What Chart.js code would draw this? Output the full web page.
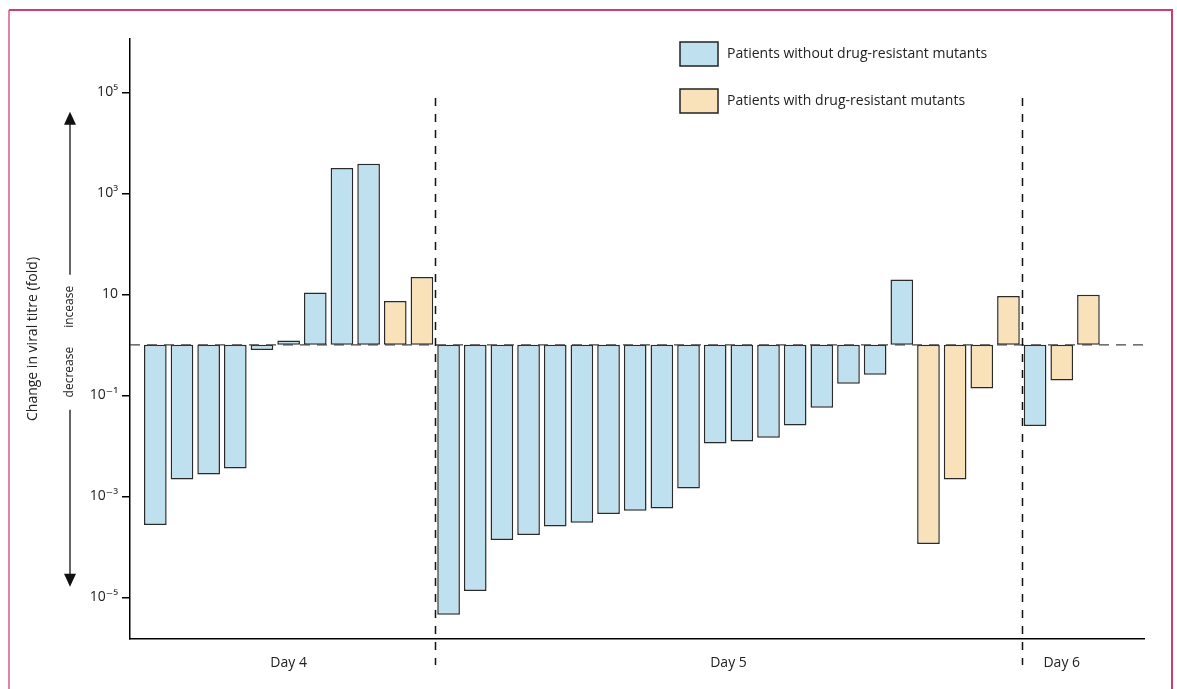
<!DOCTYPE html>
<html>
<head>
<meta charset="utf-8">
<script src="https://cdn.jsdelivr.net/npm/chart.js@4.4.1/dist/chart.umd.min.js"></script>
<style>
  html, body { margin: 0; padding: 0; background: #fff; }
  #wrap { width: 1177px; height: 689px; }
</style>
</head>
<body>
<div id="wrap"><canvas id="titreChart" width="1177" height="689"></canvas></div>
<script>
// fold change in viral titre per patient, grouped by day of sampling
const dayLabels = ['Day 4', 'Day 5', 'Day 6'];
const day4Change = [2.7e-4, 2.16e-3, 2.7e-3, 3.56e-3, 0.79, 1.22, 10.9, 3175, 3864, 7.4, 22];
const day4Resistant = [0, 0, 0, 0, 0, 0, 0, 0, 0, 1, 1];
const day5Change = [4.5e-6, 1.33e-5, 1.36e-4, 1.71e-4, 2.53e-4, 2.99e-4, 4.45e-4, 5.18e-4, 5.75e-4, 1.43e-3,
  1.11e-2, 1.22e-2, 1.44e-2, 2.53e-2, 5.68e-2, 0.17, 0.256, 19.7, 1.13e-4, 2.16e-3, 0.137, 9.25];
const day5Resistant = [0, 0, 0, 0, 0, 0, 0, 0, 0, 0, 0, 0, 0, 0, 0, 0, 0, 0, 1, 1, 1, 1];
const day6Change = [2.47e-2, 0.197, 9.8];
const day6Resistant = [0, 1, 1];

const seriesLabels = ['Patients without drug-resistant mutants', 'Patients with drug-resistant mutants'];
const yTickValues = [1e5, 1e3, 10, 0.1, 1e-3, 1e-5];
const yTickLabels = ['10\u2075', '10\u00b3', '10', '10\u207b\u00b9', '10\u207b\u00b3', '10\u207b\u2075'];

// flatten into one row of patients
const changes = [day4Change, day5Change, day6Change];
const resistant = [day4Resistant, day5Resistant, day6Resistant];
const patientDay = [];
const allChange = [];
const allResistant = [];
changes.forEach((vals, d) => {
  vals.forEach((v, i) => {
    patientDay.push(d);
    allChange.push(v);
    allResistant.push(resistant[d][i]);
  });
});

const withoutData = [];
const withData = [];
allChange.forEach((v, i) => {
  const pt = { x: i, y: [1, v] };
  if (allResistant[i]) withData.push(pt); else withoutData.push(pt);
});

// day label sits at the middle of its group, separators between groups
const dayCentres = dayLabels.map((_, d) => {
  const idx = patientDay.map((p, i) => p === d ? i : -1).filter(i => i >= 0);
  return (idx[0] + idx[idx.length - 1]) / 2;
});
const separators = [];
for (let i = 0; i < patientDay.length - 1; i++) {
  if (patientDay[i] !== patientDay[i + 1]) separators.push(i + 0.5);
}

const FONT = '"Open Sans", "DejaVu Sans", sans-serif';
const INK = '#222';

const overlays = {
  id: 'overlays',
  afterDatasetsDraw(chart) {
    const ctx = chart.ctx;
    const area = chart.chartArea;
    const xs = chart.scales.x;
    const ys = chart.scales.y;
    const base = ys.getPixelForValue(1);

    ctx.save();
    // baseline at no change
    ctx.strokeStyle = '#444';
    ctx.lineWidth = 1.3;
    ctx.setLineDash([10, 7]);
    ctx.beginPath();
    ctx.moveTo(area.left, base);
    ctx.lineTo(area.right, base);
    ctx.stroke();

    // day separators
    ctx.strokeStyle = '#111';
    ctx.lineWidth = 1.5;
    ctx.setLineDash([8, 8]);
    separators.forEach(s => {
      const x = Math.round(xs.getPixelForValue(s)) + 0.5;
      ctx.beginPath();
      ctx.moveTo(x, area.top + 59);
      ctx.lineTo(x, area.bottom + 26);
      ctx.stroke();
    });
    ctx.restore();
  },
  afterDraw(chart) {
    const ctx = chart.ctx;
    const ys = chart.scales.y;
    const base = ys.getPixelForValue(1);
    const ax = 70;

    ctx.save();
    // increase / decrease arrows
    ctx.strokeStyle = '#333';
    ctx.fillStyle = '#111';
    ctx.lineWidth = 1.5;
    ctx.beginPath();
    ctx.moveTo(ax, base - 70);
    ctx.lineTo(ax, base - 222);
    ctx.moveTo(ax, base + 65);
    ctx.lineTo(ax, base + 232);
    ctx.stroke();
    ctx.beginPath();
    ctx.moveTo(ax, base - 233);
    ctx.lineTo(ax - 6, base - 220);
    ctx.lineTo(ax + 6, base - 220);
    ctx.closePath();
    ctx.fill();
    ctx.beginPath();
    ctx.moveTo(ax, base + 242);
    ctx.lineTo(ax - 6, base + 229);
    ctx.lineTo(ax + 6, base + 229);
    ctx.closePath();
    ctx.fill();

    ctx.fillStyle = INK;
    ctx.font = '12px ' + FONT;
    ctx.textBaseline = 'middle';
    ctx.translate(ax, base);
    ctx.rotate(-Math.PI / 2);
    ctx.textAlign = 'left';
    ctx.fillText('incease', 17, 0);
    ctx.textAlign = 'right';
    ctx.fillText('decrease', -2, 0);
    ctx.restore();

    // legend
    ctx.save();
    chart.data.datasets.forEach((ds, i) => {
      const x = 680, y = 42 + i * 47;
      ctx.fillStyle = ds.backgroundColor;
      ctx.fillRect(x, y, 38, 24);
      ctx.strokeStyle = INK;
      ctx.lineWidth = 1.5;
      ctx.strokeRect(x, y, 38, 24);
      ctx.fillStyle = INK;
      ctx.font = '14px ' + FONT;
      ctx.textBaseline = 'middle';
      ctx.textAlign = 'left';
      ctx.fillText(ds.label, x + 47, y + 12);
    });

    // figure frame
    ctx.lineWidth = 2;
    ctx.strokeStyle = '#dc86a3';
    ctx.beginPath();
    ctx.moveTo(9, 689);
    ctx.lineTo(9, 10);
    ctx.stroke();
    ctx.strokeStyle = '#c8406b';
    ctx.beginPath();
    ctx.moveTo(9, 10);
    ctx.lineTo(1172, 10);
    ctx.lineTo(1172, 689);
    ctx.stroke();
    ctx.restore();
  }
};

new Chart(document.getElementById('titreChart'), {
  type: 'bar',
  data: {
    datasets: [
      {
        label: seriesLabels[0],
        data: withoutData,
        backgroundColor: '#bfe0ee',
        borderColor: '#2a2a2a',
        borderWidth: 1.5,
        borderSkipped: false,
        grouped: false,
        barPercentage: 0.85,
        categoryPercentage: 1
      },
      {
        label: seriesLabels[1],
        data: withData,
        backgroundColor: '#f9e1b9',
        borderColor: '#2a2a2a',
        borderWidth: 1.5,
        borderSkipped: false,
        grouped: false,
        barPercentage: 0.85,
        categoryPercentage: 1
      }
    ]
  },
  options: {
    responsive: false,
    devicePixelRatio: 1,
    animation: false,
    layout: { padding: { top: 39, right: 33, bottom: 0, left: 0 } },
    plugins: {
      legend: { display: false },
      tooltip: { enabled: false }
    },
    scales: {
      x: {
        type: 'linear',
        offset: false,
        min: -0.95,
        max: 37.085,
        grid: { display: false, drawTicks: false, offset: false },
        border: { display: true, color: '#000', width: 1.5 },
        afterBuildTicks: s => { s.ticks = dayCentres.map(v => ({ value: v })); },
        afterFit: s => { s.height = 50; },
        ticks: {
          padding: 16,
          color: INK,
          font: { family: FONT, size: 14 },
          callback: (v, i) => dayLabels[i]
        }
      },
      y: {
        type: 'logarithmic',
        min: 1.49e-6,
        max: 1.14e6,
        grid: { display: true, drawOnChartArea: false, drawTicks: true, tickLength: 8, color: '#000', lineWidth: 1.5 },
        border: { display: true, color: '#000', width: 1.5 },
        afterBuildTicks: s => { s.ticks = yTickValues.map(v => ({ value: v })); },
        afterFit: s => { s.width = 130; },
        title: {
          display: true,
          text: 'Change in viral titre (fold)',
          color: INK,
          font: { family: FONT, size: 14 },
          padding: { top: 25, bottom: 0 }
        },
        ticks: {
          padding: 4,
          color: INK,
          font: { family: FONT, size: 14 },
          callback: (v, i) => yTickLabels[i]
        }
      }
    }
  },
  plugins: [overlays]
});
</script>
</body>
</html>
